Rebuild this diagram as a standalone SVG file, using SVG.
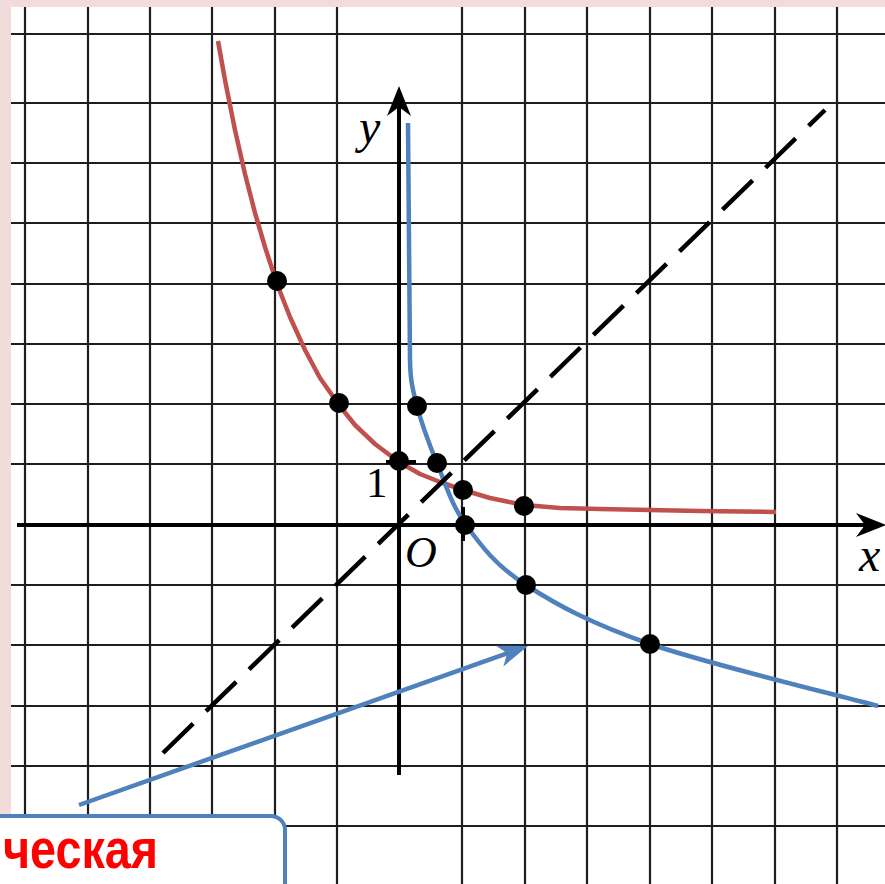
<svg xmlns="http://www.w3.org/2000/svg" width="885" height="884" viewBox="0 0 885 884">
<style>
.grid line{stroke:#1e1e1e;stroke-width:2.2}
.axis{stroke:#000;stroke-width:4;fill:none}
.red{stroke:#C0504D;stroke-width:4.5;fill:none;stroke-linejoin:round;stroke-linecap:butt}
.blue{stroke:#4F81BD;stroke-width:4.5;fill:none;stroke-linejoin:round}
.dash{stroke:#000;stroke-width:4.5;fill:none;stroke-dasharray:42 18}
.dot{fill:#000}
.lbl{font-family:"Liberation Serif","DejaVu Serif",serif;fill:#000}
.it{font-style:italic}
</style>
<defs>
<marker id="ahBlack" markerUnits="userSpaceOnUse" viewBox="-32 -13 34 26" markerWidth="34" markerHeight="26" refX="-20" refY="0" orient="auto">
<path d="M0,0 L-30,-12 L-21,0 L-30,12 Z" fill="#000"/>
</marker>
<marker id="ahBlue" markerUnits="userSpaceOnUse" viewBox="-32 -13 34 26" markerWidth="34" markerHeight="26" refX="-20" refY="0" orient="auto">
<path d="M0,0 L-30,-11 L-22,0 L-30,11 Z" fill="#4F81BD"/>
</marker>
</defs>
<rect x="0" y="0" width="885" height="884" fill="#F2DBDB"/>
<rect x="11" y="7" width="874" height="877" fill="#FFFFFF"/>
<g id="grid" class="grid">
<line x1="25" y1="7" x2="25" y2="884"/>
<line x1="88" y1="7" x2="88" y2="884"/>
<line x1="150" y1="7" x2="150" y2="884"/>
<line x1="212" y1="7" x2="212" y2="884"/>
<line x1="275" y1="7" x2="275" y2="884"/>
<line x1="337" y1="7" x2="337" y2="884"/>
<line x1="462" y1="7" x2="462" y2="884"/>
<line x1="525" y1="7" x2="525" y2="884"/>
<line x1="587" y1="7" x2="587" y2="884"/>
<line x1="650" y1="7" x2="650" y2="884"/>
<line x1="712" y1="7" x2="712" y2="884"/>
<line x1="775" y1="7" x2="775" y2="884"/>
<line x1="837" y1="7" x2="837" y2="884"/>
<line x1="11" y1="34" x2="885" y2="34"/>
<line x1="11" y1="103" x2="885" y2="103"/>
<line x1="11" y1="163" x2="885" y2="163"/>
<line x1="11" y1="223" x2="885" y2="223"/>
<line x1="11" y1="284" x2="885" y2="284"/>
<line x1="11" y1="344" x2="885" y2="344"/>
<line x1="11" y1="404" x2="885" y2="404"/>
<line x1="11" y1="464" x2="885" y2="464"/>
<line x1="11" y1="585" x2="885" y2="585"/>
<line x1="11" y1="645" x2="885" y2="645"/>
<line x1="11" y1="706" x2="885" y2="706"/>
<line x1="11" y1="766" x2="885" y2="766"/>
<line x1="11" y1="826" x2="885" y2="826"/>
</g>
<g id="axes">
<line class="axis" x1="17" y1="525" x2="866" y2="525" marker-end="url(#ahBlack)"/>
<line class="axis" x1="399" y1="775" x2="399" y2="106" marker-end="url(#ahBlack)"/>
<line class="axis" x1="386" y1="462" x2="416" y2="462"/>
<line class="axis" x1="463" y1="507" x2="463" y2="541"/>
<text class="lbl it" x="359" y="143" font-size="48">y</text>
<text class="lbl it" x="859" y="571" font-size="48">x</text>
<text class="lbl it" x="405" y="567" font-size="44">O</text>
<text class="lbl" x="366" y="497" font-size="43">1</text>
</g>
<g id="connectors">
<path id="red-curve" class="red" d="M218,41 L225,80 L235,130 L245,174 L255,213 L265,247 L277,284 L290,317 L305,350 L320,378 L339,405 L355,425 L375,444 L399,462 L420,474 L440,482 L463,490 L490,498 L524,505 L560,508 L600,509 L650,510 L700,511 L776,512"/>
<path id="blue-curve" class="blue" d="M408,123 L410,360 C410.3,380 412.5,388.8 417,406 C421.5,423.2 428.8,443.2 437,463 C445.2,482.8 451.2,504.7 466,525 C480.8,545.3 495.3,565.2 526,585 C556.7,604.8 591.3,623.8 650,644 C708.7,664.2 840,695.7 878,706"/>
<line id="diagonal" class="dash" x1="163" y1="753" x2="825" y2="110"/>
<line id="blue-arrow" class="blue" x1="79" y1="805" x2="509.1" y2="652.7" marker-end="url(#ahBlue)"/>
</g>
<g id="points">
<circle class="dot" cx="277" cy="281" r="10"/>
<circle class="dot" cx="339" cy="403" r="10"/>
<circle class="dot" cx="399" cy="461" r="10"/>
<circle class="dot" cx="417" cy="406" r="10"/>
<circle class="dot" cx="437" cy="463" r="10"/>
<circle class="dot" cx="463" cy="490" r="10"/>
<circle class="dot" cx="465" cy="525" r="10"/>
<circle class="dot" cx="524" cy="506" r="10"/>
<circle class="dot" cx="526" cy="585" r="10"/>
<circle class="dot" cx="650" cy="644" r="10"/>
</g>
<g id="label-box">
<rect x="-30" y="816" width="315" height="100" rx="14" ry="14" fill="#FFFFFF" stroke="#4F81BD" stroke-width="4"/>
<text x="3" y="868" font-family="'Liberation Sans',Arial,sans-serif" font-weight="bold" font-size="56" fill="#FF0000" textLength="155" lengthAdjust="spacingAndGlyphs">ческая</text>
</g>
</svg>
